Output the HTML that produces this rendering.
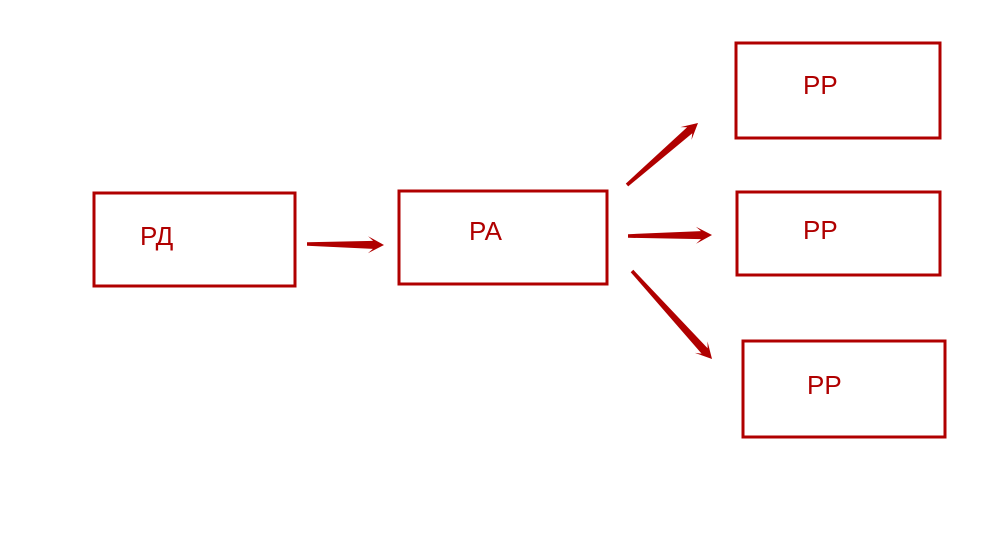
<!DOCTYPE html>
<html><head><meta charset="utf-8"><style>
html,body{margin:0;padding:0;background:#fff;width:1006px;height:549px;overflow:hidden}
text{font-family:"Liberation Sans",sans-serif;font-size:26px;fill:#b00000}
</style></head><body>
<svg id="s" width="1006" height="549" viewBox="0 0 1006 549" xmlns="http://www.w3.org/2000/svg">
<g fill="none" stroke="#b00000" stroke-width="3">
<rect x="94" y="193" width="201" height="93"/>
<rect x="399" y="191" width="208" height="93"/>
<rect x="736" y="43" width="204" height="95"/>
<rect x="737" y="192" width="203" height="83"/>
<rect x="743" y="341" width="202" height="96"/>
</g>
<text x="140" y="245">РД</text>
<text x="469" y="240">РА</text>
<text x="803" y="94">РР</text>
<text x="803" y="239">РР</text>
<text x="807" y="394">РР</text>
<g id="arrows" fill="#b00000"></g>
</svg>
<script>
function arrow(x1,y1,x2,y2){
  var dx=x2-x1,dy=y2-y1,L=Math.hypot(dx,dy),ux=dx/L,uy=dy/L,nx=-uy,ny=ux;
  var hl=16,hw=8.5,w0=1.8,w1=4;
  var bx=x2-ux*hl,by=y2-uy*hl;
  var sx=x2-ux*(hl-5),sy=y2-uy*(hl-5);
  var p=[[x1+nx*w0,y1+ny*w0],[sx+nx*w1,sy+ny*w1],[bx+nx*hw,by+ny*hw],[x2,y2],[bx-nx*hw,by-ny*hw],[sx-nx*w1,sy-ny*w1],[x1-nx*w0,y1-ny*w0]];
  var e=document.createElementNS("http://www.w3.org/2000/svg","polygon");
  e.setAttribute("points",p.map(function(q){return q[0].toFixed(1)+","+q[1].toFixed(1)}).join(" "));
  document.getElementById("arrows").appendChild(e);
}
arrow(307,244,384,245);
arrow(627,185,698,123);
arrow(628,236,712,235);
arrow(632,271,712,359);
</script>
</body></html>
